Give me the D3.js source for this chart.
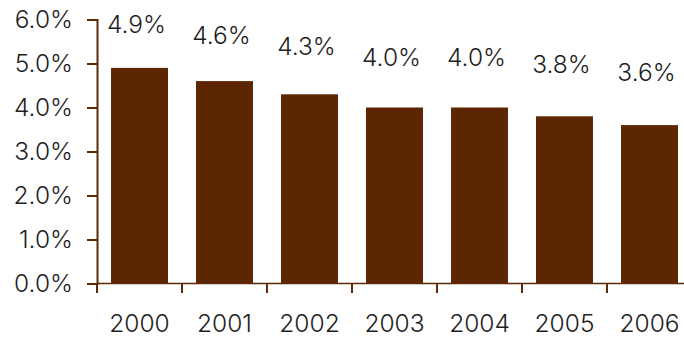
<!DOCTYPE html>
<html>
<head>
<meta charset="utf-8">
<script src="https://cdn.jsdelivr.net/npm/d3@7/dist/d3.min.js"></script>
<style>
  html, body { margin: 0; padding: 0; background: #fff; }
  svg { display: block; }
  text { font-family: Inter, "Liberation Sans", Arial, sans-serif; font-weight: 300; font-size: 24.5px; fill: #1e1e1e; }
</style>
</head>
<body>
<svg id="chart" width="684" height="339"></svg>
<script>
// Yearly rates (percent)
const years = ["2000", "2001", "2002", "2003", "2004", "2005", "2006"];
const rates = [4.9, 4.6, 4.3, 4.0, 4.0, 3.8, 3.6];
const yTicks = [0, 1, 2, 3, 4, 5, 6];

const W = 684, H = 339;
const barColor = "#5b2600";
const axisColor = "#5e2a08";

const svg = d3.select("#chart");

const x = d3.scaleBand()
  .domain(years)
  .range([97, 692])
  .paddingInner(0.33)
  .paddingOuter(0.165);

const y = d3.scaleLinear().domain([0, 6]).range([283.5, 19.5]);

// value labels sit on their own, gentler scale above the bars
const labelY = d3.scaleLinear().domain([0, 6]).range([212.8, -7.4]);

const fmt = d3.format(".1f");

// bars
svg.append("g").selectAll("rect")
  .data(years)
  .join("rect")
  .attr("x", d => x(d))
  .attr("width", x.bandwidth())
  .attr("y", (d, i) => y(rates[i]))
  .attr("height", (d, i) => y(0) - y(rates[i]))
  .attr("fill", barColor);

// value labels
svg.append("g").selectAll("text")
  .data(years)
  .join("text")
  .attr("text-anchor", "middle")
  .attr("x", d => x(d) + x.bandwidth() / 2 - 3)
  .attr("y", (d, i) => labelY(rates[i]))
  .text((d, i) => fmt(rates[i]) + "%");

// y axis
const yAxis = svg.append("g")
  .attr("transform", "translate(97,0)")
  .call(d3.axisLeft(y).tickValues(yTicks).tickSize(10).tickPadding(14)
    .tickFormat(d => fmt(d) + "%"));
yAxis.select(".domain").attr("stroke", axisColor).attr("stroke-width", 2);
yAxis.selectAll(".tick line").attr("stroke", axisColor).attr("stroke-width", 2);
yAxis.selectAll(".tick text")
  .attr("font-family", null).attr("font-size", null).attr("fill", null);

// x axis: baseline, boundary ticks, centred year labels
const xg = svg.append("g").attr("transform", `translate(0,${y(0)})`);
xg.append("line")
  .attr("x1", 97).attr("x2", W + 20)
  .attr("stroke", axisColor).attr("stroke-width", 1.6);

const step = x.step();
xg.selectAll(".bound")
  .data(years)
  .join("line")
  .attr("class", "bound")
  .attr("x1", d => x(d) - step * x.paddingOuter())
  .attr("x2", d => x(d) - step * x.paddingOuter())
  .attr("y1", 0).attr("y2", 9.5)
  .attr("stroke", axisColor).attr("stroke-width", 2);

xg.selectAll(".year")
  .data(years)
  .join("text")
  .attr("class", "year")
  .attr("text-anchor", "middle")
  .attr("x", d => x(d) + x.bandwidth() / 2)
  .attr("y", 48)
  .text(d => d);
</script>
</body>
</html>
